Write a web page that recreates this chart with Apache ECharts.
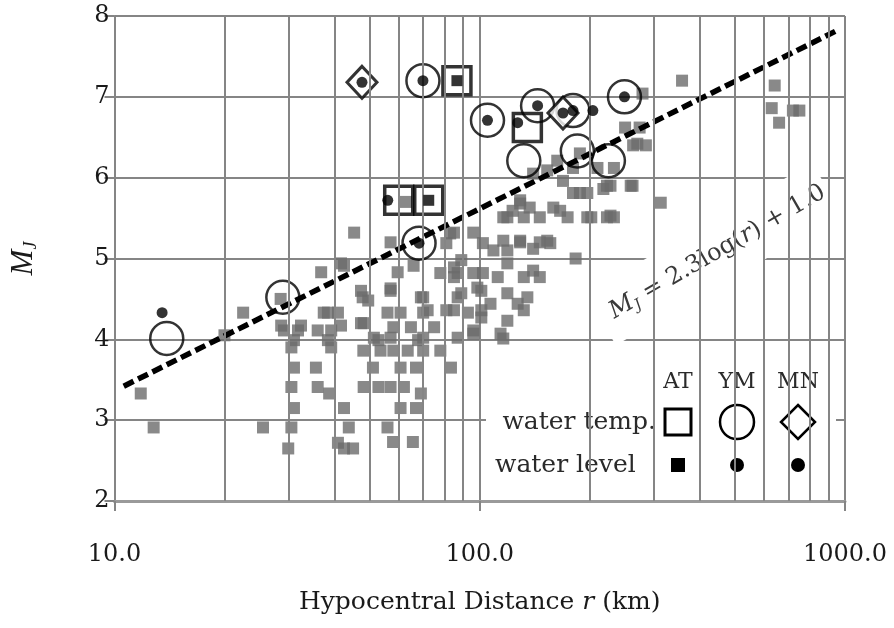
<!DOCTYPE html>
<html><head><meta charset="utf-8">
<script src="https://cdn.jsdelivr.net/npm/echarts@6/dist/echarts.min.js"></script>
<style>html,body{margin:0;padding:0;background:#fff}#c{width:894px;height:628px}</style>
</head><body><div id="c"></div>
<script>
// ---- data (r in km, magnitude Mj) ----
const xTickLabels = ['10.0', '100.0', '1000.0'];
const yTicks = [2, 3, 4, 5, 6, 7, 8];
const minorGrid = [20, 30, 40, 50, 60, 70, 80, 90, 200, 300, 400, 500, 600, 700, 800, 900];

const otherEvents = [
  [11.8,3.33],[12.8,2.91],[25.5,2.91],[22.5,4.33],[20,4.05],
  [29.9,2.65],[30.5,2.91],[31,3.15],[30.5,3.41],[31,3.65],[35.6,3.65],[36,3.41],[38.7,3.33],[42.5,3.15],
  [43.8,2.91],[42.5,2.65],[40.9,2.72],[45,2.65],[55.9,2.91],[57.9,2.73],[65.6,2.73],[60.7,3.15],[66.9,3.15],
  [69,3.33],[48.1,3.41],[52.8,3.41],[57,3.41],[62,3.41],[51,3.65],[60.7,3.65],[66.9,3.65],[83.4,3.65],
  [29.1,4.11],[31.8,4.11],[30.5,3.9],[39.2,4.11],[39.2,3.9],[37.4,4.33],[40.9,4.33],[36,4.11],[48,3.86],
  [53.5,3.86],[58,3.86],[63.5,3.86],[70,3.86],[78,3.86],[51.3,4.02],[57,4.02],[70,4.02],[87,4.02],[48.1,4.2],
  [55.9,4.33],[60.7,4.33],[70,4.33],[92.8,4.33],[47.8,4.52],[70,4.52],[87,4.52],[57,4.6],[42.5,4.91],[36.8,4.83],
  [59.6,4.83],[65.9,4.91],[78,4.82],[87,4.82],[102,4.82],[98.5,4.64],[101,4.27],[96,4.11],
  [45.3,5.32],[41.7,4.94],[57,5.2],[57,4.63],[83,5.31],[85,4.89],[47.3,4.6],[49.5,4.48],[38.4,4.33],[69,4.52],
  [72,4.36],[81,4.36],[28.6,4.17],[32.4,4.17],[41.7,4.17],[47.3,4.2],[58,4.15],[64.8,4.15],[75,4.15],[31,3.99],
  [38.4,3.99],[52.8,3.99],[67.8,3.99],[28.5,4.5],
  [180,5.81],[197,5.81],[218,5.86],[259,5.9],[119,5.51],[129,5.68],[132,5.51],[146,5.51],[166,5.59],[174,5.51],
  [202,5.51],[223,5.51],[96,5.32],[85,5.32],[102,5.19],[129,5.2],[146,5.2],[156,5.19],[109,5.1],[119,5.1],
  [140,5.12],[183,5.0],[81,5.19],[89,4.98],[119,4.94],[140,4.85],[85,4.77],[96,4.82],[112,4.77],[132,4.77],
  [146,4.77],[89,4.57],[101,4.6],[119,4.57],[135,4.52],[107,4.44],[127,4.44],[85,4.36],[101,4.36],[132,4.36],
  [119,4.23],[114,4.07],[96,4.07],[116,4.01],
  [358,7.2],[642,7.14],[630,6.86],[720,6.83],[660,6.68],[750,6.83],[279,7.04],[250,6.62],[263,6.4],[285,6.4],
  [228,5.9],[262,5.9],[313,5.69],[228,5.53],[274,6.62],[270,6.42],[233,6.12],[210,6.12],[180,6.12],[163,6.21],
  [188,6.3],[188,5.81],[223,5.9],[169,5.96],[153,6.09],[140,6.05],[123,5.59],[137,5.63],[159,5.63],[129,5.72],
  [197,5.51],[233,5.51],[116,5.51],[116,5.22],[129,5.22],[153,5.22],[62.7,5.7]
];

const atTemp  = [[86.6,7.2],[60,5.72],[72.5,5.72],[135,6.62]];
const ymTemp  = [[69.9,7.2],[105,6.71],[144,6.89],[180,6.83],[249,7.0],[68.2,5.19],
                 [13.9,4.01],[28.9,4.52],[132,6.21],[185,6.33],[225,6.21]];
const mnTemp  = [[47.6,7.18],[169,6.8]];
const atLevel = [[86.6,7.2],[72.5,5.72]];
const ymLevel = [[69.9,7.2],[105,6.71],[144,6.89],[180,6.83],[249,7.0],[68.2,5.19],
                 [127,6.68],[204,6.83],[13.5,4.33],[56,5.72]];
const mnLevel = [[47.6,7.18],[169,6.8]];
const fitLine = [[10.6,3.42],[960,7.83]];   // Mj = 2.3 log(r) + 1.0 as drawn

// ---- chart ----
const SERIF = '"DejaVu Serif",serif';
const TIMES = '"Liberation Serif","Times New Roman",serif';
const TXT = '#1a1a1a';
const GRID = '#858585';
const chart = echarts.init(document.getElementById('c'), null, {renderer: 'canvas'});
const hollow = 'rgba(0,0,0,0)';

chart.setOption({
  animation: false,
  backgroundColor: '#fff',
  grid: {left: 113, right: 49, top: 16, bottom: 127},
  xAxis: {
    type: 'log', logBase: 10, min: 10, max: 1000,
    axisLine: {show: true, lineStyle: {color: '#9a9a9a', width: 3}},
    axisTick: {show: true, length: 10, lineStyle: {color: GRID, width: 2}},
    splitLine: {show: true, lineStyle: {color: GRID, width: 2}},
    axisLabel: {
      margin: 42, fontFamily: SERIF, fontSize: 24, color: TXT,
      formatter: v => { const i = Math.round(Math.log10(v)) - 1; return xTickLabels[i] !== undefined ? xTickLabels[i] : ''; }
    },
    name: '{n|Hypocentral Distance }{i|r}{n| (km)}',
    nameLocation: 'middle', nameGap: 89,
    nameTextStyle: {
      rich: {
        n: {fontFamily: SERIF, fontSize: 25, color: TXT},
        i: {fontFamily: SERIF, fontSize: 25, color: TXT, fontStyle: 'italic'}
      }
    }
  },
  yAxis: {
    type: 'value', min: yTicks[0], max: yTicks[yTicks.length - 1], interval: 1,
    axisLine: {show: true, lineStyle: {color: GRID, width: 2}},
    axisTick: {show: true, length: 10, lineStyle: {color: GRID, width: 2}},
    splitLine: {show: true, lineStyle: {color: GRID, width: 2}},
    axisLabel: {margin: 5, fontFamily: SERIF, fontSize: 24, color: TXT},
    name: '{i|M}{s|J}',
    nameLocation: 'middle', nameGap: 74, nameRotate: 90,
    nameTextStyle: {
      rich: {
        i: {fontFamily: TIMES, fontSize: 31, color: TXT, fontStyle: 'italic', lineHeight: 34},
        s: {fontFamily: TIMES, fontSize: 18, color: TXT, fontStyle: 'italic', verticalAlign: 'bottom', lineHeight: 34}
      }
    }
  },
  graphic: [
    {type: 'rect', z: 1, shape: {x: 486, y: 353, width: 350, height: 132}, style: {fill: '#fff'}, silent: true},
    {type: 'text', z: 1, x: 714, y: 254, rotation: 30 * Math.PI / 180,
      style: {
        text: '{i|M}{s|J}{n| = 2.3log(}{i|r}{n|) + 1.0}',
        align: 'center', verticalAlign: 'middle',
        backgroundColor: '#fff', padding: [16, 4, 16, 12],
        rich: {
          n: {fontFamily: SERIF, fontSize: 24, fill: '#3a3a3a'},
          i: {fontFamily: SERIF, fontSize: 24, fill: '#3a3a3a', fontStyle: 'italic'},
          s: {fontFamily: SERIF, fontSize: 15, fill: '#3a3a3a', fontStyle: 'italic', verticalAlign: 'bottom', lineHeight: 28}
        }
      }
    },
    {type: 'text', z: 3, x: 678, y: 382, style: {text: 'AT', align: 'center', verticalAlign: 'middle', font: '22px ' + SERIF, fill: '#2a2a2a'}},
    {type: 'text', z: 3, x: 737, y: 382, style: {text: 'YM', align: 'center', verticalAlign: 'middle', font: '22px ' + SERIF, fill: '#2a2a2a'}},
    {type: 'text', z: 3, x: 798, y: 382, style: {text: 'MN', align: 'center', verticalAlign: 'middle', font: '22px ' + SERIF, fill: '#2a2a2a'}},
    {type: 'text', z: 3, x: 656, y: 422, style: {text: 'water temp.', align: 'right', verticalAlign: 'middle', font: '25px ' + SERIF, fill: '#2a2a2a'}},
    {type: 'text', z: 3, x: 495, y: 465, style: {text: 'water level', align: 'left', verticalAlign: 'middle', font: '25px ' + SERIF, fill: '#2a2a2a'}},
    {type: 'rect', z: 3, shape: {x: 665, y: 409, width: 26, height: 26}, style: {fill: '#fff', stroke: '#000', lineWidth: 3}},
    {type: 'circle', z: 3, shape: {cx: 737, cy: 422, r: 17}, style: {fill: '#fff', stroke: '#000', lineWidth: 2.5}},
    {type: 'polygon', z: 3, shape: {points: [[798, 405], [815, 422], [798, 439], [781, 422]]}, style: {fill: '#fff', stroke: '#000', lineWidth: 2.5}},
    {type: 'rect', z: 3, shape: {x: 671, y: 458, width: 14, height: 14}, style: {fill: '#000'}},
    {type: 'circle', z: 3, shape: {cx: 737, cy: 465, r: 7}, style: {fill: '#000'}},
    {type: 'circle', z: 3, shape: {cx: 798, cy: 465, r: 7}, style: {fill: '#000'}}
  ],
  series: [
    {
      type: 'line', z: 0, data: [[10, 2]], showSymbol: false, symbol: 'none', silent: true,
      lineStyle: {width: 0},
      markLine: {
        silent: true, symbol: ['none', 'none'], animation: false,
        label: {show: false},
        lineStyle: {color: GRID, width: 2, type: 'solid'},
        data: minorGrid.map(v => ({xAxis: v}))
      }
    },
    {type: 'scatter', z: 2, data: otherEvents, symbol: 'rect', symbolSize: 12, itemStyle: {color: '#6b6b6b'}, silent: true},
    {type: 'line', z: 3, data: fitLine, showSymbol: false, symbol: 'none',
      lineStyle: {color: '#000', width: 5.5, type: [11, 5]}, silent: true},
    {type: 'scatter', z: 4, data: atTemp, symbol: 'rect', symbolSize: 28,
      itemStyle: {color: hollow, borderColor: '#000', borderWidth: 3.5}, silent: true},
    {type: 'scatter', z: 4, data: ymTemp, symbol: 'circle', symbolSize: 33,
      itemStyle: {color: hollow, borderColor: '#000', borderWidth: 2.5}, silent: true},
    {type: 'scatter', z: 4, data: mnTemp, symbol: 'diamond', symbolSize: [30, 32],
      itemStyle: {color: '#fff', borderColor: '#000', borderWidth: 3}, silent: true},
    {type: 'scatter', z: 5, data: atLevel, symbol: 'rect', symbolSize: 11, itemStyle: {color: '#000'}, silent: true},
    {type: 'scatter', z: 5, data: ymLevel, symbol: 'circle', symbolSize: 11, itemStyle: {color: '#000'}, silent: true},
    {type: 'scatter', z: 5, data: mnLevel, symbol: 'circle', symbolSize: 11, itemStyle: {color: '#000'}, silent: true}
  ]
});
</script>
</body></html>
